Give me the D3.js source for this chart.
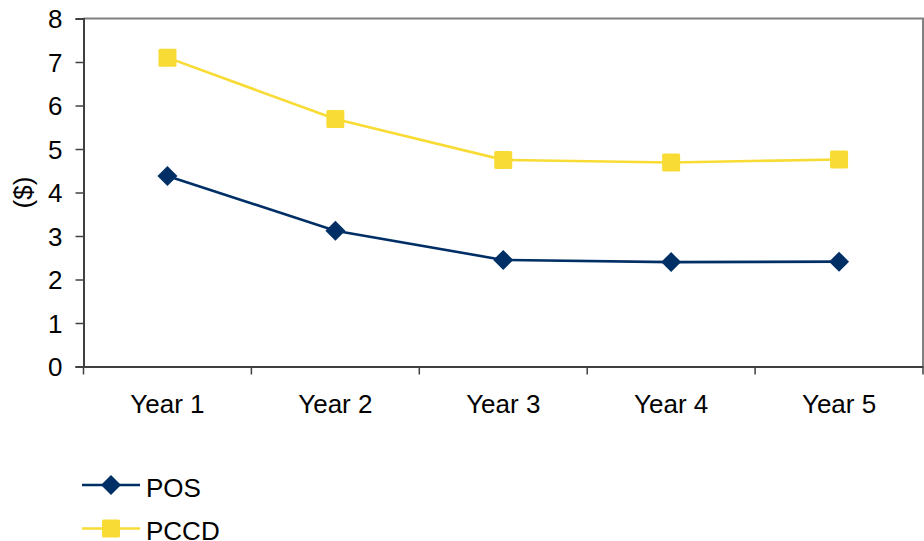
<!DOCTYPE html>
<html>
<head>
<meta charset="utf-8">
<script src="https://cdn.jsdelivr.net/npm/d3@7"></script>
<style>
  html, body { margin: 0; padding: 0; background: #fff; }
  text { font-family: "Liberation Sans", Arial, sans-serif; fill: #000; }
</style>
</head>
<body>
<svg id="chart" width="924" height="541"></svg>
<script>
// Cost per year, in dollars
const categories = ["Year 1", "Year 2", "Year 3", "Year 4", "Year 5"];
const posValues = [4.38, 3.12, 2.45, 2.40, 2.41];
const pccdValues = [7.10, 5.69, 4.75, 4.69, 4.76];
const yTicks = [0, 1, 2, 3, 4, 5, 6, 7, 8];

const series = [
  { name: "POS", values: posValues, color: "#002F66", marker: "diamond" },
  { name: "PCCD", values: pccdValues, color: "#F8DC35", marker: "square" }
];

const fontSize = 26;
const svg = d3.select("#chart");
const plotLeft = 83.5, plotRight = 923, plotTop = 18.5, plotBottom = 366.5;

const x = d3.scaleBand().domain(categories).range([plotLeft, plotRight]).padding(0);
const y = d3.scaleLinear().domain([0, 8]).range([plotBottom, plotTop]);

// frame: top and right edges
svg.append("path")
  .attr("d", `M${plotLeft},${plotTop}H${plotRight}V${plotBottom}`)
  .attr("fill", "none").attr("stroke", "#808080").attr("stroke-width", 2);

// y axis
const yAxis = svg.append("g").attr("transform", `translate(${plotLeft},0)`)
  .call(d3.axisLeft(y).tickValues(yTicks).tickSize(8).tickPadding(13).tickFormat(d3.format("d")));
yAxis.select(".domain").attr("stroke", "#404040").attr("stroke-width", 2);
yAxis.selectAll(".tick line").attr("stroke", "#404040").attr("stroke-width", 1.5);
yAxis.selectAll(".tick text").attr("font-size", fontSize).attr("dy", "0.36em");

// x axis with ticks on category boundaries
const xAxis = svg.append("g").attr("transform", `translate(0,${plotBottom})`)
  .call(d3.axisBottom(x).tickSize(0).tickPadding(28));
xAxis.select(".domain").attr("stroke", "#404040").attr("stroke-width", 2);
xAxis.selectAll(".tick text").attr("font-size", fontSize);
const bounds = categories.map(c => x(c)).concat([plotRight]);
svg.append("g").selectAll("line").data(bounds).join("line")
  .attr("x1", d => d).attr("x2", d => d)
  .attr("y1", plotBottom).attr("y2", plotBottom + 8)
  .attr("stroke", "#404040").attr("stroke-width", 1.5);

// y axis title
svg.append("text")
  .attr("transform", `translate(23,${(plotTop + plotBottom) / 2}) rotate(-90)`)
  .attr("text-anchor", "middle").attr("dy", "0.35em")
  .attr("font-size", fontSize).text("($)");

const cx = c => x(c) + x.bandwidth() / 2;

function drawMarker(g, type, color) {
  if (type === "square") {
    g.append("rect").attr("x", -9).attr("y", -9).attr("width", 18).attr("height", 18)
      .attr("rx", 1.5).attr("fill", color);
  } else {
    g.append("path").attr("d", "M0,-10L10,0L0,10L-10,0Z").attr("fill", color);
  }
}

const line = d3.line().x((d, i) => cx(categories[i])).y(d => y(d));

series.forEach(s => {
  svg.append("path").datum(s.values)
    .attr("d", line).attr("fill", "none")
    .attr("stroke", s.color).attr("stroke-width", 2.6);
  s.values.forEach((v, i) => {
    const g = svg.append("g").attr("transform", `translate(${cx(categories[i])},${y(v)})`);
    drawMarker(g, s.marker, s.color);
  });
});

// legend
const legend = svg.append("g");
series.forEach((s, i) => {
  const ly = 485 + i * 43.5;
  legend.append("line").attr("x1", 82).attr("x2", 140).attr("y1", ly).attr("y2", ly)
    .attr("stroke", s.color).attr("stroke-width", 2.6);
  const g = legend.append("g").attr("transform", `translate(111,${ly})`);
  drawMarker(g, s.marker, s.color);
  legend.append("text").attr("x", 146).attr("y", ly + 2.5).attr("dy", "0.36em")
    .attr("font-size", fontSize).text(s.name);
});
</script>
</body>
</html>
